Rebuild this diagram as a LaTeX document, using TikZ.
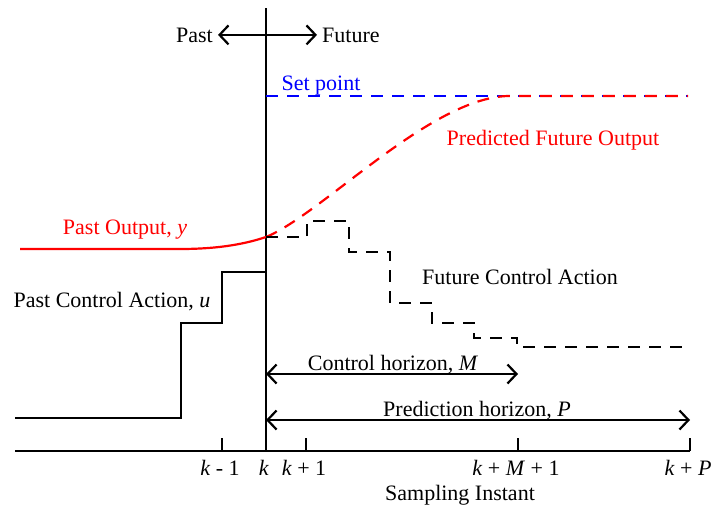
\documentclass[tikz,border=0pt]{standalone}
\usepackage{fontspec}
\setmainfont{Liberation Serif}
\usetikzlibrary{arrows.meta}
\definecolor{outputRed}{RGB}{255,0,0}
\definecolor{setBlue}{RGB}{0,0,255}
\tikzstyle{plane} = [x = 1pt, y = -1pt, every node/.style={font=\fontsize{22}{26}\selectfont, inner sep=0pt, anchor=base}]
\tikzstyle{solidLine} = [color=black, line width=2.2pt]
\tikzstyle{dashLine} = [line width=2.2pt, dash pattern=on 12pt off 9pt]
\tikzstyle{horizon} = [solidLine, {Straight Barb[length=9pt,width=19pt]}-{Straight Barb[length=9pt,width=19pt]}]
\tikzstyle{tickLabel} = [anchor=base]
\newcommand{\axisY}{451}
\newcommand{\tickLength}{13}
\newcommand{\sampleTick}[3]{
  \coordinate (#1) at (#2, \axisY);
  \draw [solidLine] (#1) -- +(0, -\tickLength);
  \node [tickLabel] (#1Label) at (#2 - 2, 475) {#3};
}

\begin{document}
\begin{tikzpicture}[plane]
  \useasboundingbox (0,0) rectangle (711,506);

  % time axis and present instant
  \coordinate (axisStart) at (15, \axisY);
  \coordinate (axisEnd) at (690, \axisY);
  \draw [solidLine] (axisStart) -- (axisEnd);
  \coordinate (nowTop) at (266, 8);
  \coordinate (nowBottom) at (266, \axisY);
  \draw [solidLine] (nowTop) -- (nowBottom);
  \sampleTick{kPrev}{222}{\textit{k} - 1}
  \sampleTick{kNow}{266}{\textit{k}}
  \sampleTick{kNext}{306}{\textit{k} + 1}
  \sampleTick{kM}{518}{\textit{k} + \textit{M} + 1}
  \sampleTick{kP}{690}{\textit{k} + \textit{P}}
  \node (sampling) at (460, 500) {Sampling Instant};

  % past / future
  \node [anchor=base east, inner sep=5pt] (past) at (218, 42) {Past};
  \node [anchor=base west, inner sep=5pt] (future) at (317, 42) {Future};
  \draw [horizon] (past.east) -- (future.west);

  % set point
  \coordinate (setStart) at (266, 96);
  \coordinate (setEnd) at (688, 96);
  \draw [dashLine, setBlue] (setStart) -- (setEnd);
  \node [setBlue] (setLabel) at (321, 90) {Set point};

  % output
  \coordinate (pastStart) at (20, 249);
  \coordinate (yNow) at (266, 237);
  \draw [line width=2.2pt, outputRed] (pastStart) -- (180, 249)
    .. controls (222, 249) and (248, 243) .. (yNow);
  \draw [dashLine, outputRed] (yNow) .. controls (322, 214) and (430, 98) .. (508, 96) -- (setEnd);
  \node [outputRed] (pastOutput) at (125, 234) {Past Output, \textit{y}};
  \node [outputRed] (predicted) at (553, 145) {Predicted Future Output};

  % control action
  \draw [solidLine] (15, 418) -- (181, 418) -- (181, 323) -- (222, 323)
    -- (222, 272) -- (266, 272);
  \draw [dashLine] (266, 237) -- (307, 237) -- (307, 221) -- (349, 221)
    -- (349, 252) -- (390, 252) -- (390, 303) -- (432, 303) -- (432, 323)
    -- (474, 323) -- (474, 338) -- (517, 338) -- (517, 347) -- (688, 347);
  \node (pastControl) at (112, 307) {Past Control Action, \textit{u}};
  \node (futureControl) at (520, 284) {Future Control Action};

  % horizons
  \coordinate (controlStart) at (266, 374);
  \coordinate (controlEnd) at (518, 374);
  \draw [horizon] (controlStart) -- (controlEnd);
  \node (controlLabel) at (393, 370) {Control horizon, \textit{M}};
  \coordinate (predictStart) at (266, 420);
  \coordinate (predictEnd) at (690, 420);
  \draw [horizon] (predictStart) -- (predictEnd);
  \node (predictLabel) at (477, 416) {Prediction horizon, \textit{P}};
\end{tikzpicture}
\end{document}
